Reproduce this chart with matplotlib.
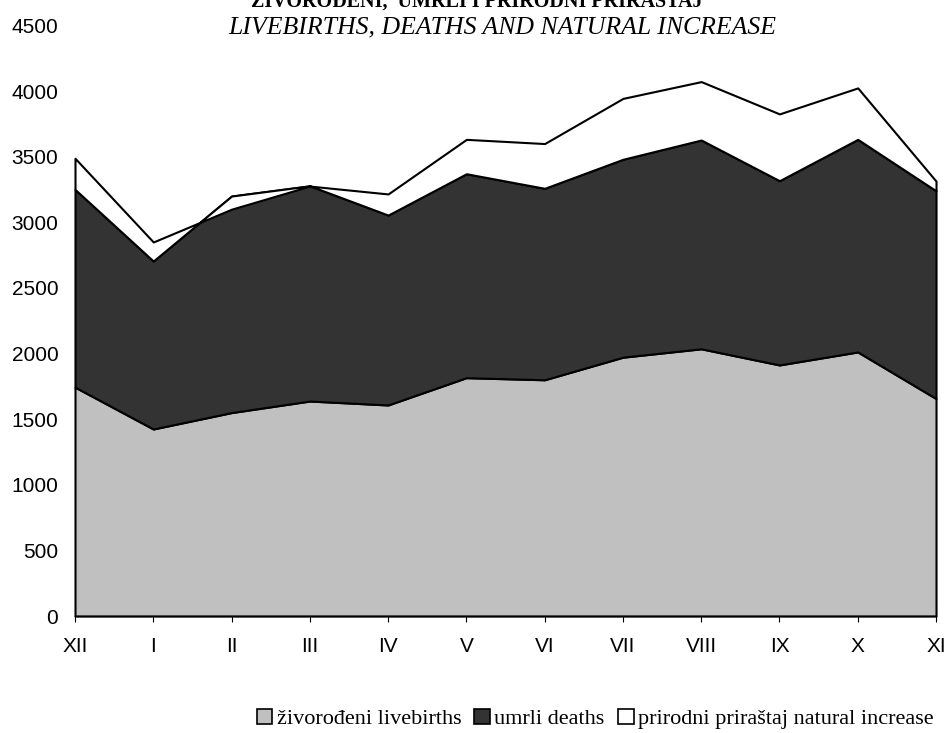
import matplotlib
matplotlib.use('Agg')
import matplotlib.pyplot as plt
import numpy as np
from matplotlib.patches import Patch

months = ['XII', 'I', 'II', 'III', 'IV', 'V', 'VI', 'VII', 'VIII', 'IX', 'X', 'XI']
livebirths = [1744, 1425, 1550, 1638, 1608, 1816, 1800, 1972, 2036, 1913, 2012, 1657]
deaths = [1507, 1280, 1650, 1640, 1447, 1554, 1459, 1508, 1591, 1404, 1620, 1583]
natural_increase = [b - d for b, d in zip(livebirths, deaths)]

labels = ['živorođeni livebirths', 'umrli deaths', 'prirodni priraštaj natural increase']
colors = ['#c0c0c0', '#333333', '#ffffff']

fig = plt.figure(figsize=(9.47, 7.33), dpi=100)
ax = fig.add_axes([0.0792, 0.1596, 0.9092, 0.8057])

x = np.arange(len(months))
base = np.zeros(len(months))
for vals, col in zip([livebirths, deaths, natural_increase], colors):
    top = base + np.array(vals)
    ax.fill_between(x, base, top, facecolor=col, edgecolor='black', linewidth=1.5,
                    clip_on=False, zorder=2)
    base = top

ax.set_xlim(0, len(months) - 1)
ax.set_ylim(0, 4500)
ax.set_yticks(np.arange(0, 4501, 500))
ax.set_xticks(x)
ax.set_xticklabels(months)

for s in ['top', 'right', 'left']:
    ax.spines[s].set_visible(False)
ax.spines['bottom'].set_linewidth(1.0)
ax.spines['bottom'].set_zorder(3)

ax.tick_params(axis='y', length=0, pad=12, labelsize=15)
ax.tick_params(axis='x', direction='out', length=4, width=0.8, pad=11, labelsize=15)
for lbl in ax.get_xticklabels() + ax.get_yticklabels():
    lbl.set_family('Liberation Sans')

# title sits partly above the top edge, as in the original
fig.text(0.503, 1 - 7 / 733, 'ŽIVOROĐENI,  UMRLI I PRIRODNI PRIRAŠTAJ', ha='center',
         va='baseline', family='Liberation Serif', fontweight='bold', fontsize=14.5)
fig.text(0.53, 1 - 27 / 733, 'LIVEBIRTHS, DEATHS AND NATURAL INCREASE', ha='center',
         va='center', family='Liberation Serif', style='italic', fontsize=18.5)

handles = [Patch(facecolor=c, edgecolor='black', linewidth=1.2) for c in colors]
fig.legend(handles, labels, loc='center right', bbox_to_anchor=(1.0, 1 - 719 / 733),
           ncol=3, frameon=False, handlelength=0.7, handleheight=0.7, handletextpad=0.2,
           columnspacing=0.6, borderaxespad=0.2,
           prop={'family': 'Liberation Serif', 'size': 16})

fig.savefig('out.png', dpi=100)
